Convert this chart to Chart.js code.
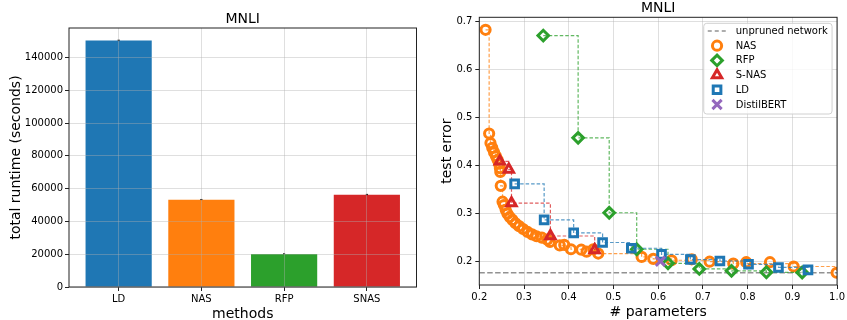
<!DOCTYPE html>
<html>
<head>
<meta charset="utf-8">
<script src="https://cdn.jsdelivr.net/npm/chart.js@4/dist/chart.umd.min.js"></script>
<style>
  html, body { margin: 0; padding: 0; background: #fff; }
  #wrap { position: relative; width: 847px; height: 320px; }
  canvas { position: absolute; top: 0; }
</style>
</head>
<body>
<div id="wrap">
  <canvas id="runtime" width="430" height="320" style="left:0"></canvas>
  <canvas id="pareto" width="417" height="320" style="left:430px"></canvas>
</div>
<script>
// left panel: total runtime per method
const methods = ["LD", "NAS", "RFP", "SNAS"];
const runtimeSeconds = [150300, 53200, 20100, 56200];
const runtimeErr = [300, 200, 150, 300];
const runtimeTicks = [0, 20000, 40000, 60000, 80000, 100000, 120000, 140000];
const barColors = ["#1f77b4", "#ff7f0e", "#2ca02c", "#d62728"];

// right panel: test error vs fraction of parameters
const nasParams = [0.214, 0.222, 0.225, 0.229, 0.233, 0.237, 0.241, 0.244, 0.246, 0.247,
  0.248, 0.252, 0.255, 0.259, 0.263, 0.268, 0.274, 0.281, 0.289, 0.298,
  0.308, 0.318, 0.328, 0.340, 0.352, 0.358, 0.380, 0.390, 0.405, 0.428,
  0.440, 0.455, 0.466, 0.563, 0.589, 0.630, 0.675, 0.715, 0.768, 0.797,
  0.850, 0.903, 0.999];
const nasError = [0.683, 0.467, 0.447, 0.437, 0.428, 0.420, 0.412, 0.404, 0.395, 0.387,
  0.358, 0.325, 0.318, 0.308, 0.300, 0.293, 0.287, 0.280, 0.274, 0.268,
  0.262, 0.257, 0.253, 0.250, 0.246, 0.241, 0.234, 0.235, 0.226, 0.225,
  0.221, 0.226, 0.217, 0.210, 0.206, 0.203, 0.205, 0.200, 0.196, 0.199,
  0.199, 0.190, 0.177];
const rfpParams = [0.343, 0.421, 0.4905, 0.552, 0.622, 0.692, 0.764, 0.842, 0.922];
const rfpError = [0.671, 0.458, 0.302, 0.226, 0.1966, 0.185, 0.181, 0.178, 0.1775];
const snasParams = [0.246, 0.266, 0.272, 0.359, 0.458];
const snasError = [0.409, 0.392, 0.322, 0.2535, 0.2244];
const ldParams = [0.279, 0.345, 0.411, 0.4757, 0.540, 0.6075, 0.672, 0.738, 0.802, 0.869, 0.935];
const ldError = [0.362, 0.287, 0.260, 0.240, 0.228, 0.2154, 0.2045, 0.2015, 0.1946, 0.188, 0.183];
const distilParams = [0.605];
const distilError = [0.201];
const unprunedError = 0.177;
const paramTicks = [0.2, 0.3, 0.4, 0.5, 0.6, 0.7, 0.8, 0.9, 1.0];
const errorTicks = [0.2, 0.3, 0.4, 0.5, 0.6, 0.7];

Chart.defaults.font.family = '"DejaVu Sans", sans-serif';
Chart.defaults.font.size = 10;
Chart.defaults.color = "#000";

const GRID = "rgba(176,176,176,0.4)";

function points(xs, ys) {
  return xs.map((x, i) => ({ x: x, y: ys[i] }));
}

// keep only points that improve on every point with fewer parameters
function frontier(xs, ys) {
  const pts = points(xs, ys).sort((a, b) => a.x - b.x);
  const out = [];
  let best = Infinity;
  pts.forEach((p) => {
    if (p.y < best) { out.push(p); best = p.y; }
  });
  return out;
}

function alpha(hex, a) {
  const n = parseInt(hex.slice(1), 16);
  return `rgba(${n >> 16},${(n >> 8) & 255},${n & 255},${a})`;
}

// axes box, title and axis labels, drawn matplotlib style
function frame(o) {
  return {
    id: "frame",
    afterDraw(chart) {
      const { ctx, chartArea: a } = chart;
      ctx.save();
      ctx.strokeStyle = "#222";
      ctx.lineWidth = 1;
      ctx.strokeRect(a.left, a.top, a.right - a.left, a.bottom - a.top);
      ctx.fillStyle = "#000";
      ctx.textAlign = "center";
      ctx.textBaseline = "alphabetic";
      ctx.font = '14px "DejaVu Sans"';
      const cx = (a.left + a.right) / 2;
      ctx.fillText(o.title, cx, o.titleY);
      ctx.fillText(o.xLabel, cx, o.xLabelY);
      ctx.translate(o.yLabelX, (a.top + a.bottom) / 2);
      ctx.rotate(-Math.PI / 2);
      ctx.fillText(o.yLabel, 0, 0);
      ctx.restore();
    },
  };
}

const errorBars = {
  id: "errorBars",
  afterDatasetsDraw(chart) {
    const { ctx } = chart;
    const xs = chart.scales.x, ys = chart.scales.y;
    ctx.save();
    ctx.strokeStyle = "#000";
    ctx.lineWidth = 1;
    runtimeSeconds.forEach((v, i) => {
      const x = xs.getPixelForValue(i);
      ctx.beginPath();
      ctx.moveTo(x, ys.getPixelForValue(v - runtimeErr[i]));
      ctx.lineTo(x, ys.getPixelForValue(v + runtimeErr[i]));
      ctx.moveTo(x - 1, ys.getPixelForValue(v + runtimeErr[i]));
      ctx.lineTo(x + 1, ys.getPixelForValue(v + runtimeErr[i]));
      ctx.stroke();
    });
    ctx.restore();
  },
};

new Chart(document.getElementById("runtime"), {
  type: "bar",
  data: {
    datasets: [{
      data: points(methods.map((m, i) => i), runtimeSeconds),
      backgroundColor: barColors,
      borderWidth: 0,
      barPercentage: 1,
      categoryPercentage: 0.8,
    }],
  },
  options: {
    responsive: false,
    animation: false,
    devicePixelRatio: 1,
    layout: { padding: { left: 0, right: 13.5, top: 28, bottom: 0 } },
    plugins: { legend: { display: false }, tooltip: { enabled: false } },
    scales: {
      x: {
        type: "linear",
        offset: false,
        min: -0.6,
        max: 3.6,
        afterBuildTicks: (s) => { s.ticks = methods.map((m, i) => ({ value: i })); },
        afterFit: (s) => { s.height = 33; },
        ticks: { callback: (v) => methods[v], padding: 2, maxRotation: 0, autoSkip: false },
        grid: { offset: false, color: GRID, z: 1, tickLength: 4, tickColor: "#222" },
        border: { display: false },
      },
      y: {
        min: 0,
        max: 158000,
        afterBuildTicks: (s) => { s.ticks = runtimeTicks.map((v) => ({ value: v })); },
        afterFit: (s) => { s.width = 69; },
        ticks: { callback: (v) => String(v), padding: 2 },
        grid: { color: GRID, z: 1, tickLength: 4, tickColor: "#222" },
        border: { display: false },
      },
    },
  },
  plugins: [errorBars, frame({
    title: "MNLI", titleY: 22.7,
    xLabel: "methods", xLabelY: 318,
    yLabel: "total runtime (seconds)", yLabelX: 20,
  })],
});

// right panel
const ORANGE = "#ff7f0e", GREEN = "#2ca02c", RED = "#d62728", BLUE = "#1f77b4", PURPLE = "#9467bd";
const MW = 3;

function markers(label, xs, ys, color, style, r, order) {
  return {
    type: "scatter", label: label, data: points(xs, ys), order: order,
    pointStyle: style, pointRadius: r, pointBorderWidth: MW, borderWidth: MW,
    borderColor: color, pointBorderColor: color, backgroundColor: "rgba(0,0,0,0)",
    pointBackgroundColor: "rgba(0,0,0,0)",
    legend: true,
  };
}

function steps(xs, ys, color, order) {
  return {
    type: "line", data: frontier(xs, ys), order: order, stepped: "before",
    borderColor: alpha(color, 0.75), borderWidth: 1.2, borderDash: [3.5, 2],
    pointRadius: 0, fill: false,
  };
}

const legendBox = {
  id: "legendBox",
  afterDraw(chart) {
    const { ctx, chartArea: a } = chart;
    const w = 128.3, h = 90.7;
    const left = a.right - 5 - w, top = a.top + 6;
    ctx.save();
    ctx.beginPath();
    ctx.roundRect(left, top, w, h, 3);
    ctx.fillStyle = "rgba(255,255,255,0.8)";
    ctx.fill();
    ctx.strokeStyle = "#d0d0d0";
    ctx.lineWidth = 1;
    ctx.stroke();
    ctx.font = '10px "DejaVu Sans"';
    ctx.textBaseline = "middle";
    ctx.textAlign = "left";
    const rows = chart.data.datasets.filter((d) => d.legend);
    const rowY = (i) => top + 7.7 + i * 14.7;
    const mx = left + 13.3, tx = left + 32;
    rows.forEach((d, i) => {
      const y = rowY(i);
      ctx.strokeStyle = d.borderColor;
      if (d.pointStyle) {
        ctx.fillStyle = "rgba(0,0,0,0)";
        ctx.lineWidth = MW;
        Chart.helpers.drawPoint(ctx, { pointStyle: d.pointStyle, radius: d.pointRadius, rotation: 0, borderWidth: MW }, mx, y);
      } else {
        ctx.lineWidth = 1.5;
        ctx.setLineDash([4, 3]);
        ctx.beginPath();
        ctx.moveTo(left + 4, y);
        ctx.lineTo(left + 24, y);
        ctx.stroke();
        ctx.setLineDash([]);
      }
      ctx.fillStyle = "#000";
      ctx.fillText(d.label, tx, y + 0.5);
    });
    ctx.restore();
  },
};

new Chart(document.getElementById("pareto"), {
  type: "scatter",
  data: {
    datasets: [
      {
        type: "line", label: "unpruned network", legend: true, order: 20,
        data: points([0.2, 1.0], [unprunedError, unprunedError]),
        borderColor: "rgba(127,127,127,0.85)", borderWidth: 1.5, borderDash: [5.5, 2.4],
        pointRadius: 0, fill: false,
      },
      steps(nasParams, nasError, ORANGE, 11),
      markers("NAS", nasParams, nasError, ORANGE, "circle", 4.6, 10),
      steps(rfpParams, rfpError, GREEN, 9),
      markers("RFP", rfpParams, rfpError, GREEN, "rectRot", 5.3, 8),
      steps(snasParams, snasError, RED, 7),
      markers("S-NAS", snasParams, snasError, RED, "triangle", 5.4, 6),
      steps(ldParams, ldError, BLUE, 5),
      markers("LD", ldParams, ldError, BLUE, "rect", 5.4, 4),
      markers("DistilBERT", distilParams, distilError, PURPLE, "crossRot", 6.5, 3),
    ],
  },
  options: {
    responsive: false,
    animation: false,
    devicePixelRatio: 1,
    layout: { padding: { left: 0, right: 9.7, top: 17.3, bottom: 0 } },
    plugins: { legend: { display: false }, tooltip: { enabled: false } },
    scales: {
      x: {
        type: "linear",
        min: 0.2,
        max: 1.0,
        afterBuildTicks: (s) => { s.ticks = paramTicks.map((v) => ({ value: v })); },
        afterFit: (s) => { s.height = 35; },
        ticks: { callback: (v) => v.toFixed(1), padding: 2, maxRotation: 0, autoSkip: false },
        grid: { color: GRID, tickLength: 4, tickColor: "#222" },
        border: { display: false },
      },
      y: {
        min: 0.1515,
        max: 0.709,
        afterBuildTicks: (s) => { s.ticks = errorTicks.map((v) => ({ value: v })); },
        afterFit: (s) => { s.width = 49.3; },
        ticks: { callback: (v) => v.toFixed(1), padding: 3 },
        grid: { color: GRID, tickLength: 4, tickColor: "#222" },
        border: { display: false },
      },
    },
  },
  plugins: [legendBox, frame({
    title: "MNLI", titleY: 11.7,
    xLabel: "# parameters", xLabelY: 316,
    yLabel: "test error", yLabelX: 20.7,
  })],
});
</script>
</body>
</html>
